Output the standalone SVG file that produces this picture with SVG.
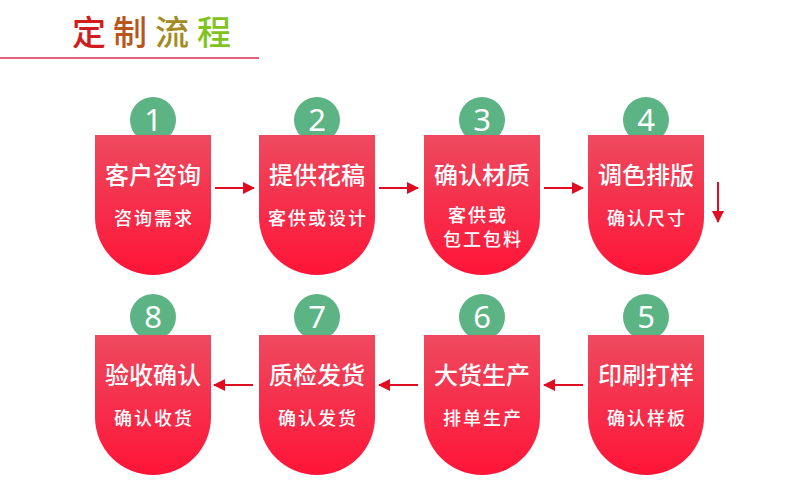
<svg xmlns="http://www.w3.org/2000/svg" width="790" height="488" viewBox="0 0 790 488">
<defs>
<linearGradient id="g" x1="0" y1="0" x2="0" y2="1">
<stop offset="0" stop-color="#ee4a5f"/>
<stop offset="1" stop-color="#ff1437"/>
</linearGradient>
<marker id="ah" markerWidth="12" markerHeight="12" refX="11" refY="6" orient="auto" markerUnits="userSpaceOnUse">
<path d="M0,0 L12,6 L0,12 z" fill="#e00d22"/>
</marker>
<path id="shield" d="M0,0 h116 v82 a58,58 0 0 1 -116,0 z" fill="url(#g)"/>
</defs>
<style>
.num{font-family:"Noto Sans","DejaVu Sans",sans-serif;font-size:31px;fill:#fff;text-anchor:middle}
.main{font-family:"Noto Sans CJK SC",sans-serif;font-size:24px;font-weight:500;fill:#fff;text-anchor:middle}
.sub{font-family:"Noto Sans CJK SC",sans-serif;font-size:18px;font-weight:500;letter-spacing:2px;fill:#fff;text-anchor:middle}
.circ{fill:#5cb384}
.conn{stroke:#e00d22;stroke-width:2;fill:none}
.title{font-family:"Noto Sans CJK SC",sans-serif;font-size:34px;font-weight:500}
</style>
<rect width="790" height="488" fill="#fff"/>
<g id="title">
<text class="title" x="72" y="45" fill="#d01c1c">定</text>
<text class="title" x="113" y="45" fill="#b8561e">制</text>
<text class="title" x="155" y="45" fill="#a38a22">流</text>
<text class="title" x="197" y="45" fill="#7fc41e">程</text>
<rect x="0" y="57" width="259" height="2" fill="#e5627c"/>
</g>
<g id="n1"><circle class="circ" cx="153" cy="120" r="23"/><text class="num" x="153" y="131">1</text><use href="#shield" x="95" y="135"/><text class="main" x="153" y="184">客户咨询</text><text class="sub" x="154" y="225">咨询需求</text></g>
<g id="n2"><circle class="circ" cx="317" cy="120" r="23"/><text class="num" x="317" y="131">2</text><use href="#shield" x="259" y="135"/><text class="main" x="317" y="184">提供花稿</text><text class="sub" x="318" y="225">客供或设计</text></g>
<g id="n3"><circle class="circ" cx="482" cy="120" r="23"/><text class="num" x="482" y="131">3</text><use href="#shield" x="424" y="135"/><text class="main" x="482" y="184">确认材质</text><text class="sub" x="478" y="222">客供或</text><text class="sub" x="483" y="246">包工包料</text></g>
<g id="n4"><circle class="circ" cx="646" cy="120" r="23"/><text class="num" x="646" y="131">4</text><use href="#shield" x="588" y="135"/><text class="main" x="646" y="184">调色排版</text><text class="sub" x="647" y="225">确认尺寸</text></g>
<g id="n5"><circle class="circ" cx="646" cy="317" r="23"/><text class="num" x="646" y="328">5</text><use href="#shield" x="588" y="335"/><text class="main" x="646" y="384">印刷打样</text><text class="sub" x="647" y="425">确认样板</text></g>
<g id="n6"><circle class="circ" cx="482" cy="317" r="23"/><text class="num" x="482" y="328">6</text><use href="#shield" x="424" y="335"/><text class="main" x="482" y="384">大货生产</text><text class="sub" x="483" y="425">排单生产</text></g>
<g id="n7"><circle class="circ" cx="317" cy="317" r="23"/><text class="num" x="317" y="328">7</text><use href="#shield" x="259" y="335"/><text class="main" x="317" y="384">质检发货</text><text class="sub" x="318" y="425">确认发货</text></g>
<g id="n8"><circle class="circ" cx="153" cy="317" r="23"/><text class="num" x="153" y="328">8</text><use href="#shield" x="95" y="335"/><text class="main" x="153" y="384">验收确认</text><text class="sub" x="154" y="425">确认收货</text></g>
<g id="connectors">
<line class="conn" x1="215" y1="188" x2="254" y2="188" marker-end="url(#ah)"/>
<line class="conn" x1="379" y1="188" x2="418" y2="188" marker-end="url(#ah)"/>
<line class="conn" x1="544" y1="188" x2="583" y2="188" marker-end="url(#ah)"/>
<line class="conn" x1="718" y1="182" x2="718" y2="222" marker-end="url(#ah)"/>
<line class="conn" x1="583" y1="385" x2="544" y2="385" marker-end="url(#ah)"/>
<line class="conn" x1="418" y1="385" x2="379" y2="385" marker-end="url(#ah)"/>
<line class="conn" x1="253" y1="385" x2="214" y2="385" marker-end="url(#ah)"/>
</g>
</svg>
